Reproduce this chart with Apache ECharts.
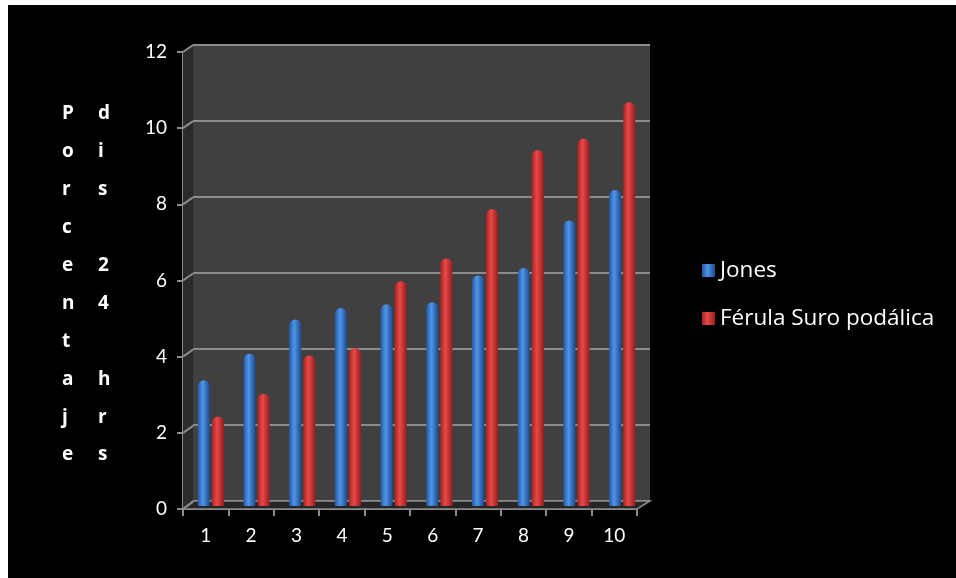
<!DOCTYPE html>
<html>
<head>
<meta charset="utf-8">
<script src="https://cdn.jsdelivr.net/npm/echarts@6/dist/echarts.min.js"></script>
<style>
  html, body { margin: 0; padding: 0; background: #fff; }
  #chart { width: 956px; height: 578px; }
</style>
</head>
<body>
<div id="chart"></div>
<script>
// Categories and values
const categories = ['1', '2', '3', '4', '5', '6', '7', '8', '9', '10'];
const jones = [3.3, 4.0, 4.9, 5.2, 5.3, 5.35, 6.05, 6.25, 7.5, 8.3];
const ferula = [2.35, 2.95, 3.95, 4.15, 5.9, 6.5, 7.8, 9.35, 9.65, 10.6];
const yTicks = [0, 2, 4, 6, 8, 10, 12];
const seriesNames = ['Jones', 'Férula Suro podálica'];
const titleLeft = 'Porcentaje';
const titleRight = 'dis 24 hrs';

const FONT = 'Lato, "Open Sans", sans-serif';
const LEGEND_FONT = '"Open Sans", sans-serif';
const GRID_LINE = '#8c8c8c';
const DEPTH_L = 10;   // back-wall offset at the left edge
const DEPTH_R = 13;   // back-wall offset at the right edge
const RISE = 7;       // back-wall vertical offset

function cylinder(edge, mid, edge2) {
  return new echarts.graphic.LinearGradient(0, 0, 1, 0, [
    { offset: 0, color: edge },
    { offset: 0.42, color: mid },
    { offset: 1, color: edge2 }
  ]);
}

const chart = echarts.init(document.getElementById('chart'), null, { renderer: 'canvas' });

const stacked = s => s.split('').join('\n');

chart.setOption({
  backgroundColor: '#000',
  animation: false,
  graphic: [
    { type: 'rect', shape: { x: 0, y: 0, width: 8, height: 578 }, style: { fill: '#fff' }, z: 100 },
    { type: 'rect', shape: { x: 0, y: 0, width: 956, height: 5 }, style: { fill: '#fff' }, z: 100 },
    { type: 'text', left: 62, top: 95, style: { text: stacked(titleLeft), fill: '#fff', font: 'bold 19px ' + LEGEND_FONT, lineHeight: 37.9, align: 'center' } },
    { type: 'text', left: 98, top: 95, style: { text: stacked(titleRight), fill: '#fff', font: 'bold 19px ' + LEGEND_FONT, lineHeight: 37.9, align: 'center' } }
  ],
  legend: {
    orient: 'vertical',
    left: 697,
    top: 254,
    itemWidth: 13,
    itemHeight: 13,
    itemGap: 25,
    icon: 'rect',
    textStyle: { color: '#fff', fontSize: 22.5, fontFamily: LEGEND_FONT, padding: [0, 0, 0, 0] },
    data: seriesNames
  },
  grid: [
    // back wall
    { left: 193, top: 45, width: 457, height: 456, show: true, backgroundColor: '#404040', borderWidth: 0 },
    // front axes
    { left: 183, top: 52, width: 454, height: 457, show: false },
    // columns (mid depth)
    { left: 188, top: 49, width: 457, height: 457, show: false }
  ],
  xAxis: [
    { gridIndex: 0, type: 'category', data: categories, show: false },
    {
      gridIndex: 1, type: 'category', data: categories,
      axisLine: { lineStyle: { color: GRID_LINE, width: 2 } },
      axisTick: { show: true, length: 7, lineStyle: { color: GRID_LINE, width: 2 } },
      axisLabel: { color: '#fff', fontSize: 19, fontFamily: FONT, margin: 17 }
    },
    { gridIndex: 2, type: 'category', data: categories, show: false }
  ],
  yAxis: [
    {
      gridIndex: 0, type: 'value', min: 0, max: 12, interval: 2,
      axisLine: { show: false }, axisTick: { show: false }, axisLabel: { show: false },
      splitLine: { show: true, lineStyle: { color: GRID_LINE, width: 2 } }
    },
    {
      gridIndex: 1, type: 'value', min: 0, max: 12, interval: 2,
      axisLine: { show: true, lineStyle: { color: GRID_LINE, width: 2 } },
      axisTick: { show: true, length: 6, lineStyle: { color: GRID_LINE, width: 2 } },
      axisLabel: { color: '#fff', fontSize: 19, fontFamily: FONT, margin: 16 },
      splitLine: { show: false }
    },
    { gridIndex: 2, type: 'value', min: 0, max: 12, interval: 2, show: false, splitLine: { show: false } }
  ],
  series: [
    {
      // side wall and floor of the 3D frame
      type: 'custom', xAxisIndex: 1, yAxisIndex: 1, silent: true, z: 1,
      data: [0],
      renderItem: function (params, api) {
        const cs = params.coordSys;
        const x0 = cs.x, x1 = cs.x + cs.width;
        const yb = api.coord([0, 0])[1];
        const yt = api.coord([0, 12])[1];
        return {
          type: 'group',
          children: [
            { type: 'polygon', shape: { points: [[x0, yb], [x0, yt], [x0 + DEPTH_L, yt - RISE], [x0 + DEPTH_L, yb - RISE]] }, style: { fill: '#2b2b2b' } },
            { type: 'polygon', shape: { points: [[x0, yb], [x1, yb], [x1 + DEPTH_R, yb - RISE - 1], [x0 + DEPTH_L, yb - RISE - 1]] }, style: { fill: '#262626', stroke: GRID_LINE, lineWidth: 1.5 } }
          ]
        };
      }
    },
    {
      // depth connectors from the front axis to the wall gridlines
      type: 'custom', xAxisIndex: 1, yAxisIndex: 1, silent: true, z: 2,
      data: yTicks,
      renderItem: function (params, api) {
        const cs = params.coordSys;
        const y = api.coord([0, api.value(0)])[1];
        return {
          type: 'line',
          shape: { x1: cs.x, y1: y, x2: cs.x + DEPTH_L, y2: y - RISE },
          style: { stroke: GRID_LINE, lineWidth: 2 }
        };
      },
      encode: { y: 0 }
    },
    {
      name: seriesNames[0], type: 'bar', xAxisIndex: 2, yAxisIndex: 2, z: 5,
      data: jones, barWidth: 12, barGap: '18%',
      itemStyle: { color: cylinder('#2457a3', '#4f95e8', '#1c4a8f'), borderRadius: [6, 6, 1, 1] }
    },
    {
      name: seriesNames[1], type: 'bar', xAxisIndex: 2, yAxisIndex: 2, z: 5,
      data: ferula, barWidth: 12,
      itemStyle: { color: cylinder('#a82424', '#e94848', '#961d1d'), borderRadius: [6, 6, 1, 1] }
    }
  ]
});
</script>
</body>
</html>
